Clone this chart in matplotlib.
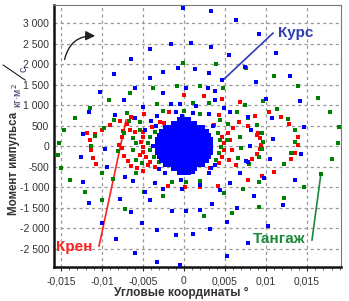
import matplotlib
matplotlib.use("Agg")
import matplotlib.pyplot as plt
from matplotlib.ticker import FuncFormatter, MultipleLocator
from matplotlib.patches import FancyArrowPatch

plt.rcParams['font.family'] = ['Liberation Sans', 'DejaVu Sans']

# --- data: angle (deg) vs angular momentum ---
blue_x = [-0.0041, -0.0064, -0.0085, -0.0042, -0.0060, -0.0102, -0.0073, -0.0116, -0.0050, -0.0084,
          -0.0060, -0.0040, -0.0123, -0.0047, -0.0001, 0.0033, 0.0064, -0.0016, 0.0009, 0.0033,
          0.0055, -0.0007, -0.0025, 0.0013, 0.0031, 0.0074, 0.0047, 0.0002, 0.0029, -0.0025,
          0.0038, -0.0016, -0.0005, 0.0015, 0.0038, 0.0049, -0.0033, -0.0010, -0.0002, 0.0011,
          0.0031, 0.0056, 0.0078, 0.0091, 0.0112, 0.0129, 0.0088, 0.0141, 0.0100, 0.0107,
          0.0146, 0.0082, -0.0126, -0.0123, -0.0116, -0.0100, -0.0083, -0.0094, -0.0096, -0.0078,
          -0.0065, -0.0060, -0.0051, -0.0048, -0.0062, -0.0072, -0.0033, -0.0005, -0.0010, 0.0011,
          0.0032, -0.0033, -0.0014, 0.0002, 0.0019, 0.0034, 0.0052, 0.0052, 0.0078, -0.0026,
          -0.0002, 0.0020, 0.0044, 0.0065, -0.0041, 0.0109, 0.0081, 0.0105, 0.0143, 0.0098,
          0.0086, 0.0121, 0.0135, 0.0102, 0.0076, -0.0038, -0.0035, -0.0023, -0.0012, -0.0004,
          0.0011, 0.0030, 0.0038, 0.0056, 0.0068, 0.0078, -0.0034, 0.0036, -0.0030, 0.0033]
blue_y = [2360, 2115, 1764, 1652, 1408, 1325, 1115, 837, 952, 756,
          676, 610, 293, 390, 3360, 3294, 3074, 2489, 2521, 2423,
          2220, 1896, 1813, 1871, 1789, 1928, 1603, 1408, 1408, 1286,
          1342, 1017, 1017, 983, 1115, 935, 739, 837, 732, 798,
          781, 822, 700, 2733, 2277, 1715, 1569, 1105, 1139, 676,
          456, 390, -261, -871, -1383, -1871, -2277, -505, -73, -1293,
          -1618, -2603, -1871, -1115, -847, -756, -2823, -2904, -2172, -2147,
          -2033, -2050, -1586, -1579, -1562, -1415, -1854, -2684, -2360, -1049,
          -1057, -952, -1074, -1520, -1318, 163, 0, -325, -203, -788,
          -1220, -1440, -830, -1952, -359, 0, -910, -651, -561, -830,
          -627, -666, -464, -910, -651, -383, 500, 480, -560, -540]

# dense blue core, row by row (momentum value, angles)
core_rows = [
    (634, [-0.0005, 0.0, 0.0005]),
    (537, [-0.0012, -0.0007, -0.0002, 0.0003, 0.0008, 0.0012]),
    (439, [-0.0022, -0.0017, -0.0012, -0.0007, -0.0002, 0.0003, 0.0008, 0.0013, 0.0018, 0.0022]),
    (342, [-0.0027, -0.0024, -0.0019, -0.0014, -0.0010, -0.0005, 0.0, 0.0005, 0.0010, 0.0015, 0.0020, 0.0024, 0.0027]),
    (244, [-0.0029, -0.0024, -0.0020, -0.0015, -0.0010, -0.0005, 0.0, 0.0005, 0.0010, 0.0015, 0.0020, 0.0024, 0.0029]),
    (146, [-0.0032, -0.0029, -0.0024, -0.0020, -0.0015, -0.0010, -0.0005, 0.0, 0.0005, 0.0010, 0.0015, 0.0020, 0.0024, 0.0029, 0.0032]),
    (49, [-0.0032, -0.0029, -0.0024, -0.0020, -0.0015, -0.0010, -0.0005, 0.0, 0.0005, 0.0010, 0.0015, 0.0020, 0.0024, 0.0029, 0.0032]),
    (-49, [-0.0032, -0.0029, -0.0024, -0.0020, -0.0015, -0.0010, -0.0005, 0.0, 0.0005, 0.0010, 0.0015, 0.0020, 0.0024, 0.0029, 0.0032]),
    (-146, [-0.0032, -0.0029, -0.0024, -0.0020, -0.0015, -0.0010, -0.0005, 0.0, 0.0005, 0.0010, 0.0015, 0.0020, 0.0024, 0.0029, 0.0032]),
    (-244, [-0.0029, -0.0024, -0.0020, -0.0015, -0.0010, -0.0005, 0.0, 0.0005, 0.0010, 0.0015, 0.0020, 0.0024, 0.0029]),
    (-342, [-0.0027, -0.0024, -0.0019, -0.0014, -0.0010, -0.0005, 0.0, 0.0005, 0.0010, 0.0015, 0.0020, 0.0024, 0.0027]),
    (-439, [-0.0022, -0.0017, -0.0012, -0.0007, -0.0002, 0.0003, 0.0008, 0.0013, 0.0018, 0.0022]),
    (-537, [-0.0012, -0.0007, -0.0002, 0.0003, 0.0008, 0.0012]),
    (-634, [-0.0005, 0.0, 0.0005]),
]

green_x = [-0.0066, -0.0038, -0.0091, -0.0114, -0.0133, -0.0070, -0.0085, -0.0054, -0.0146, -0.0098,
           -0.0073, -0.0153, -0.0001, 0.0039, -0.0009, 0.0020, 0.0048, -0.0033, 0.0011, 0.0031,
           0.0074, -0.0025, 0.0000, 0.0019, 0.0065, 0.0044, 0.0054, 0.0110, 0.0139, 0.0163,
           0.0178, 0.0189, 0.0096, 0.0113, 0.0127, 0.0135, 0.0078, 0.0089, 0.0095, 0.0076,
           -0.0150, -0.0139, -0.0121, -0.0100, -0.0100, -0.0108, -0.0113, -0.0081, -0.0059, -0.0059,
           -0.0072, -0.0086, -0.0049, -0.0051, -0.0154, -0.0026, 0.0024, 0.0059, 0.0049, 0.0072,
           0.0020, 0.0003, -0.0015, 0.0097, 0.0095, 0.0092, 0.0079, 0.0092, 0.0122, 0.0135,
           0.0131, 0.0147, 0.0122, 0.0092, 0.0181, 0.0188, 0.0167,
           -0.0042, -0.0044, -0.0041, -0.0037, -0.0031, -0.0035, 0.0041, 0.0044, 0.0045, 0.0043,
           0.0039, 0.0053, -0.0062, -0.0062, -0.0059, -0.0054, 0.0068, 0.0070, 0.0066, -0.0067]
green_y = [1301, 1423, 1130, 920, 676, 798, 634, 578, 383, 447,
           317, 81, 2033, 1993, 1471, 1471, 1408, 1025, 1057, 1042,
           1000, 854, 847, 773, 822, 634, 537, 1715, 1471, 1164,
           822, 456, 1105, 895, 651, 390, 676, 512, 310, 1896,
           -544, -830, -1122, -1318, -651, 244, 0, -115, 66, -651,
           -1545, -813, -1115, -422, -220, -1220, -1708, -1627, -1154, -1049,
           -854, -871, -886, 105, -81, -261, -439, -886, -447, 105,
           -163, -1008, -1276, -1496, -325, 66, -691,
           227, 66, -98, -261, -383, 349, 310, 146, -17, -178,
           -342, 146, 195, -98, -342, 390, 220, -49, -293, 617]

red_x = [-0.0049, -0.0064, -0.0078, -0.0109, -0.0090, -0.0100, -0.0060, -0.0066, 0.0000, 0.0024,
         0.0047, 0.0068, -0.0018, 0.0043, 0.0067, -0.0024, 0.0104, 0.0118, 0.0128, 0.0136,
         0.0087, 0.0078, 0.0090, -0.0118, -0.0115, -0.0113, -0.0111, -0.0107, -0.0079, -0.0075,
         -0.0073, -0.0068, -0.0064, -0.0057, -0.0050, -0.0044, -0.0053, 0.0001, 0.0020, 0.0041,
         0.0063, -0.0019, 0.0089, 0.0093, 0.0094, 0.0093, 0.0089, 0.0083, 0.0078, 0.0095,
         0.0110, 0.0136, 0.0139, 0.0139, 0.0131,
         -0.0050, -0.0050, -0.0052, -0.0050, -0.0050, -0.0046, -0.0042, -0.0035, -0.0039, -0.0029,
         0.0047, 0.0049, 0.0049, 0.0047, 0.0043, 0.0054, 0.0037, 0.0032,
         -0.0076, -0.0074, -0.0069, -0.0061, 0.0056, 0.0059, 0.0055, 0.0060]
red_y = [781, 700, 617, 285, 512, 398, 349, 398, 1244, 1220,
         1147, 1081, 837, 756, 593, 554, 837, 700, 537, 383,
         739, 488, 310, 310, 146, -98, -285, -439, 24, -56,
         -244, -366, -481, -544, -603, -464, -220, -1008, -1008, -976,
         -464, -976, 268, 188, 24, -81, -203, -325, -830, -732,
         -627, -163, 212, 24, -325,
         349, 227, 105, -17, -139, -261, -383, -505, 471, 593,
         227, 66, -98, -261, -422, 310, 512, -537,
         213, 366, 530, 690, 146, -98, -342, 439]

x_ticks = [-0.015, -0.01, -0.005, 0, 0.005, 0.01, 0.015]
y_ticks = [-2500, -2000, -1500, -1000, -500, 0, 500, 1000, 1500, 2000, 2500, 3000]

core_x = [x for y, xs in core_rows for x in xs]
core_y = [y for y, xs in core_rows for x in xs]

fig = plt.figure(figsize=(3.49, 3.01), dpi=100)
ax = fig.add_axes([0.1547, 0.113, 0.8223, 0.870])

ms = 3.0
ax.plot(red_x, red_y, 's', color='#ff0000', ms=ms, mew=0, zorder=3)
ax.plot(green_x, green_y, 's', color='#008000', ms=ms, mew=0, zorder=3)
ax.plot(blue_x, blue_y, 's', color='#0000ff', ms=ms, mew=0, zorder=4)
ax.plot(core_x, core_y, 's', color='#0000ff', ms=ms + 0.8, mew=0, zorder=4)

ax.set_xlim(-0.01585, 0.01915)
ax.set_ylim(-2950, 3440)
ax.set_xticks(x_ticks)
ax.set_yticks(y_ticks)
ax.xaxis.set_minor_locator(MultipleLocator(0.001))
ax.xaxis.set_major_formatter(FuncFormatter(lambda v, p: f"{v:g}".replace(".", ",")))
ax.yaxis.set_major_formatter(FuncFormatter(lambda v, p: f"{v:,.0f}".replace(",", " ")))
ax.tick_params(labelsize=7.5, colors='#333333', length=3, width=0.8)
ax.tick_params(axis='x', which='minor', length=2, width=0.6, color='#555555')
ax.tick_params(axis='y', length=0)
ax.grid(True, color='#999999', linestyle=(0, (2.5, 2.5)), linewidth=0.9)
ax.set_axisbelow(True)

for side in ['left', 'bottom']:
    ax.spines[side].set_linewidth(1.8)
    ax.spines[side].set_color('#111111')
for side in ['top', 'right']:
    ax.spines[side].set_linewidth(0.8)
    ax.spines[side].set_color('#777777')

ax.set_xlabel("Угловые координаты °", fontsize=8.6, fontweight='bold', color='#333333', labelpad=2)
ax.xaxis.set_label_coords(0.443, -0.075)

# y label with the unit written as a slanted fraction
fig.text(0.04, 0.458, "Момент импульса", rotation=90, fontsize=8.3, fontweight='bold',
         color='#333333', ha='center', va='center')
fig.text(0.05, 0.684, "кг·м$^2$", rotation=90, fontsize=7.5, color='#333366',
         ha='center', va='center')
fig.add_artist(plt.Line2D([0.009, 0.072], [0.784, 0.734], color='black', lw=0.7,
                          transform=fig.transFigure))
fig.text(0.068, 0.770, "с", rotation=90, fontsize=7.5, color='#333366', ha='center', va='center')

# series labels
ax.text(0.780, 0.893, "Курс", transform=ax.transAxes, fontsize=11, fontweight='bold',
        color='#2e3db5', ha='left', va='center')
ax.plot([0.763, 0.589], [0.893, 0.714], transform=ax.transAxes, color='#2e3db5', lw=1.2)

ax.text(0.007, 0.076, "Крен", transform=ax.transAxes, fontsize=11, fontweight='bold',
        color='#ff2020', ha='left', va='center')
ax.plot([0.157, 0.251], [0.080, 0.561], transform=ax.transAxes, color='#ff2020', lw=1.2)

ax.text(0.693, 0.107, "Тангаж", transform=ax.transAxes, fontsize=11, fontweight='bold',
        color='#1a8a3a', ha='left', va='center')
ax.plot([0.899, 0.930], [0.103, 0.355], transform=ax.transAxes, color='#1a8a3a', lw=1.2)

arrow = FancyArrowPatch((0.035, 0.782), (0.153, 0.882), transform=ax.transAxes,
                        connectionstyle="arc3,rad=-0.45", arrowstyle='-|>',
                        mutation_scale=14, color='#222222', lw=1.0)
ax.add_patch(arrow)

fig.savefig("out.png", dpi=100)
